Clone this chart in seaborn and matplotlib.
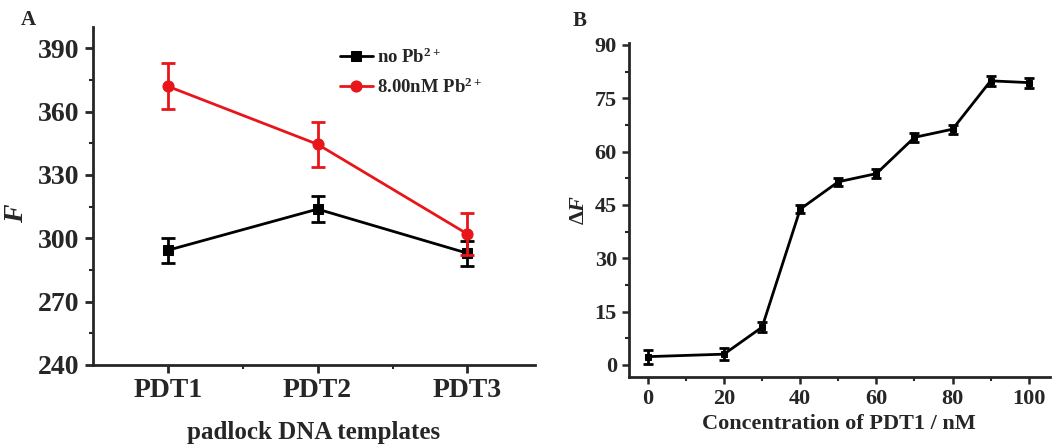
import numpy as np
import pandas as pd
import matplotlib
matplotlib.use("Agg")
import matplotlib.pyplot as plt
from matplotlib.ticker import MultipleLocator, FixedLocator
import seaborn as sns

# Panel A data
templates = ["PDT1", "PDT2", "PDT3"]
no_pb = [294.3, 313.8, 292.9]
no_pb_err = [6.0, 6.0, 6.0]
pb_8nm = [372.0, 344.5, 302.0]
pb_8nm_err = [11.0, 10.8, 10.0]

# Panel B data
conc = [0, 20, 30, 40, 50, 60, 70, 80, 90, 100]
delta_f = [2.3, 3.0, 10.6, 43.8, 51.5, 53.8, 64.0, 66.3, 79.9, 79.4]
delta_f_err = [2.0, 1.6, 1.5, 1.2, 1.1, 1.2, 1.3, 1.3, 1.4, 1.4]

sns.set_theme(style="ticks")
plt.rcParams["font.family"] = ["Liberation Serif", "DejaVu Serif"]
plt.rcParams["font.weight"] = "bold"
plt.rcParams["mathtext.fontset"] = "custom"
plt.rcParams["mathtext.rm"] = "Liberation Serif:bold"
plt.rcParams["mathtext.bf"] = "Liberation Serif:bold"
plt.rcParams["mathtext.it"] = "Liberation Serif:bold:italic"

fig = plt.figure(figsize=(10.55, 4.45), dpi=100)
axA = fig.add_axes([0.088, 0.180, 0.419, 0.759])
axB = fig.add_axes([0.596, 0.153, 0.399, 0.750])

# ---- Panel A ----
xa = np.arange(1, len(templates) + 1)
dfA = pd.DataFrame({
    "x": np.concatenate([xa, xa]),
    "F": no_pb + pb_8nm,
    "series": ["no"] * 3 + ["pb"] * 3,
})
sns.lineplot(data=dfA[dfA.series == "no"], x="x", y="F", ax=axA, color="black",
             marker="s", markersize=7, lw=2, markeredgecolor="black",
             label=r"no Pb$^{2+}$")
sns.lineplot(data=dfA[dfA.series == "pb"], x="x", y="F", ax=axA, color="#e8161b",
             marker="o", markersize=8, lw=2, markeredgecolor="#e8161b",
             label=r"8.00nM Pb$^{2+}$")
axA.errorbar(xa, no_pb, yerr=no_pb_err, fmt="none", ecolor="black",
             elinewidth=2, capsize=5, capthick=2)
axA.errorbar(xa, pb_8nm, yerr=pb_8nm_err, fmt="none", ecolor="#e8161b",
             elinewidth=2, capsize=5, capthick=2)

axA.set_xlim(0.5, 3.45)
axA.set_ylim(240, 400)
axA.set_xticks(xa)
axA.set_xticklabels(templates)
axA.xaxis.set_minor_locator(FixedLocator([1.5, 2.5]))
axA.yaxis.set_major_locator(MultipleLocator(30))
axA.yaxis.set_minor_locator(MultipleLocator(15))
axA.set_xlabel("padlock DNA templates", fontsize=18, fontweight="bold")
axA.xaxis.set_label_coords(0.5, -0.165)
axA.set_ylabel(r"$F$", fontsize=20)
axA.yaxis.set_label_coords(-0.145, 0.45)
axA.tick_params(axis="both", which="major", labelsize=20, length=6, width=2, direction="out")
axA.tick_params(axis="both", which="minor", length=3, width=1.5, direction="out")
for lab in axA.get_xticklabels() + axA.get_yticklabels():
    lab.set_fontweight("bold")
sns.despine(ax=axA)
for s in ["left", "bottom"]:
    axA.spines[s].set_linewidth(2)
leg = axA.legend(loc="upper left", bbox_to_anchor=(0.52, 0.99), frameon=False,
                 fontsize=13.5, handlelength=1.8, handletextpad=0.2, labelspacing=0.55)
for t in leg.get_texts():
    t.set_fontweight("bold")

# ---- Panel B ----
dfB = pd.DataFrame({"conc": conc, "dF": delta_f})
sns.lineplot(data=dfB, x="conc", y="dF", ax=axB, color="black", marker="s",
             markersize=5, lw=2, markeredgecolor="black")
axB.errorbar(conc, delta_f, yerr=delta_f_err, fmt="none", ecolor="black",
             elinewidth=2, capsize=3.5, capthick=2)
axB.set_xlim(-5, 105.5)
axB.set_ylim(-3.4, 90.5)
axB.xaxis.set_major_locator(MultipleLocator(20))
axB.xaxis.set_minor_locator(MultipleLocator(10))
axB.yaxis.set_major_locator(MultipleLocator(15))
axB.yaxis.set_minor_locator(MultipleLocator(7.5))
axB.set_xlabel("Concentration of PDT1 / nM", fontsize=16, fontweight="bold", labelpad=4)
axB.set_ylabel(r"$\Delta F$", fontsize=16, labelpad=4)
axB.tick_params(axis="both", which="major", labelsize=16, length=5, width=1.8, direction="out")
axB.tick_params(axis="both", which="minor", length=3, width=1.5, direction="out")
for lab in axB.get_xticklabels() + axB.get_yticklabels():
    lab.set_fontweight("bold")
sns.despine(ax=axB)
for s in ["left", "bottom"]:
    axB.spines[s].set_linewidth(2)

fig.text(0.020, 0.955, "A", fontsize=15, fontweight="bold", va="center")
fig.text(0.543, 0.953, "B", fontsize=15, fontweight="bold", va="center")

fig.savefig("out.png", dpi=100)
